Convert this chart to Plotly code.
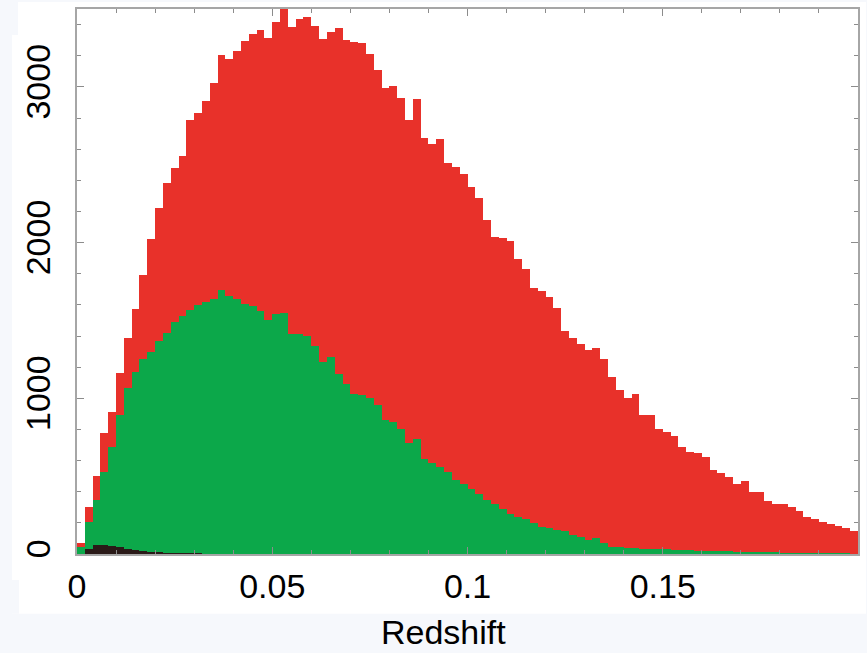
import numpy as np
import plotly.graph_objects as go

# Redshift histogram: 100 bins of width 0.002 from z = 0 to z = 0.2
bin_width = 0.002
n_bins = 100
bin_centres = np.round(np.arange(n_bins) * bin_width + bin_width / 2, 4)

# Counts per bin, full sample
counts_all = [
    70, 300, 500, 780, 910, 1160, 1390, 1575, 1790, 2020,
    2220, 2385, 2480, 2555, 2790, 2835, 2910, 3025, 3205, 3180,
    3230, 3295, 3340, 3365, 3315, 3415, 3510, 3385, 3435, 3450,
    3390, 3310, 3350, 3375, 3300, 3285, 3280, 3210, 3110, 2995,
    3005, 2930, 2790, 2920, 2670, 2635, 2665, 2510, 2485, 2440,
    2355, 2285, 2145, 2035, 2030, 2010, 1895, 1830, 1710, 1690,
    1650, 1580, 1430, 1390, 1350, 1310, 1325, 1255, 1135, 1055,
    1005, 1025, 890, 890, 805, 785, 760, 690, 655, 650,
    625, 540, 520, 495, 450, 470, 400, 400, 340, 320,
    320, 305, 275, 235, 225, 205, 190, 180, 170, 150,
]

# Counts per bin, green subsample
counts_green = [
    45, 205, 350, 525, 690, 890, 1065, 1170, 1250, 1300,
    1370, 1420, 1490, 1530, 1570, 1600, 1620, 1640, 1695, 1660,
    1640, 1605, 1595, 1560, 1505, 1540, 1550, 1415, 1410, 1400,
    1335, 1230, 1265, 1155, 1090, 1030, 1020, 1005, 955, 860,
    850, 805, 710, 740, 612, 585, 560, 527, 478, 452,
    420, 388, 345, 324, 292, 260, 240, 228, 196, 175,
    164, 154, 145, 120, 110, 90, 100, 68, 48, 47,
    36, 36, 35, 30, 30, 29, 28, 27, 26, 21,
    20, 20, 18, 17, 15, 13, 12, 10, 10, 7,
    6, 5, 4, 3, 2, 2, 1, 1, 1, 0,
]

# Counts per bin, black subsample (low-redshift only)
counts_black = [
    0, 35, 60, 55, 50, 42, 35, 28, 22, 16,
    10, 6, 4, 3, 2, 1, 0, 0, 0, 0,
] + [0] * 80

x_ticks = [0, 0.05, 0.1, 0.15]
x_tick_labels = ["0", "0.05", "0.1", "0.15"]
y_ticks = [0, 1000, 2000, 3000]
y_tick_labels = ["0", "1000", "2000", "3000"]

RED = "#E8312A"
GREEN = "#0CA84A"
BLACK = "#2A1A18"
AXIS_GREY = "#A6A6A6"
TICK_GREY = "#8C8C8C"
PAGE_TINT = "#F6F8FC"

W, H = 867, 653
M_L, M_R, M_T, M_B = 77, 8, 7, 99

fig = go.Figure()
for counts, colour in ((counts_all, RED), (counts_green, GREEN), (counts_black, BLACK)):
    fig.add_trace(go.Bar(
        x=bin_centres, y=counts, width=bin_width,
        marker=dict(color=colour, line=dict(width=0)),
        hoverinfo="x+y", showlegend=False,
    ))

font = dict(family="Liberation Sans, Arial, sans-serif", size=34, color="#000000")

axis_common = dict(
    showgrid=False, zeroline=False,
    showline=True, linecolor=AXIS_GREY, linewidth=2, mirror="allticks",
    ticks="inside", ticklen=7, tickwidth=1, tickcolor=TICK_GREY,
    tickfont=font,
)

fig.update_xaxes(
    range=[0, 0.2], tickmode="array", tickvals=x_ticks, ticktext=x_tick_labels,
    minor=dict(dtick=0.01, ticks="inside", ticklen=4, tickcolor=TICK_GREY, showgrid=False),
    ticklabelstandoff=1,
    **axis_common,
)
fig.update_yaxes(
    range=[0, 3500], tickmode="array", tickvals=y_ticks, ticktext=y_tick_labels,
    minor=dict(dtick=200, ticks="inside", ticklen=4, tickcolor=TICK_GREY, showgrid=False),
    tickangle=-90, ticklabelstandoff=11,
    **axis_common,
)

plot_w = W - M_L - M_R
plot_h = H - M_T - M_B


def px_x(p):
    return (p - M_L) / plot_w


def px_y(p):
    return (H - M_B - p) / plot_h


# White card on a faintly tinted page
shapes = [
    dict(type="rect", xref="paper", yref="paper", layer="below",
         x0=px_x(12), x1=px_x(W), y0=px_y(614), y1=px_y(0),
         fillcolor="#FFFFFF", line=dict(width=0)),
    dict(type="rect", xref="paper", yref="paper", layer="below",
         x0=px_x(12), x1=px_x(19), y0=px_y(614), y1=px_y(580),
         fillcolor=PAGE_TINT, line=dict(width=0)),
    dict(type="rect", xref="paper", yref="paper", layer="below",
         x0=px_x(12), x1=px_x(18), y0=px_y(33), y1=px_y(0),
         fillcolor=PAGE_TINT, line=dict(width=0)),
]

fig.update_layout(
    width=W, height=H,
    margin=dict(l=M_L, r=M_R, t=M_T, b=M_B, pad=0),
    barmode="overlay", bargap=0,
    paper_bgcolor=PAGE_TINT, plot_bgcolor="#FFFFFF",
    shapes=shapes,
    annotations=[dict(
        text="Redshift", xref="paper", yref="paper",
        x=px_x(444), y=px_y(632), xanchor="center", yanchor="middle",
        showarrow=False, font=font,
    )],
)

fig.write_html("out.html")
